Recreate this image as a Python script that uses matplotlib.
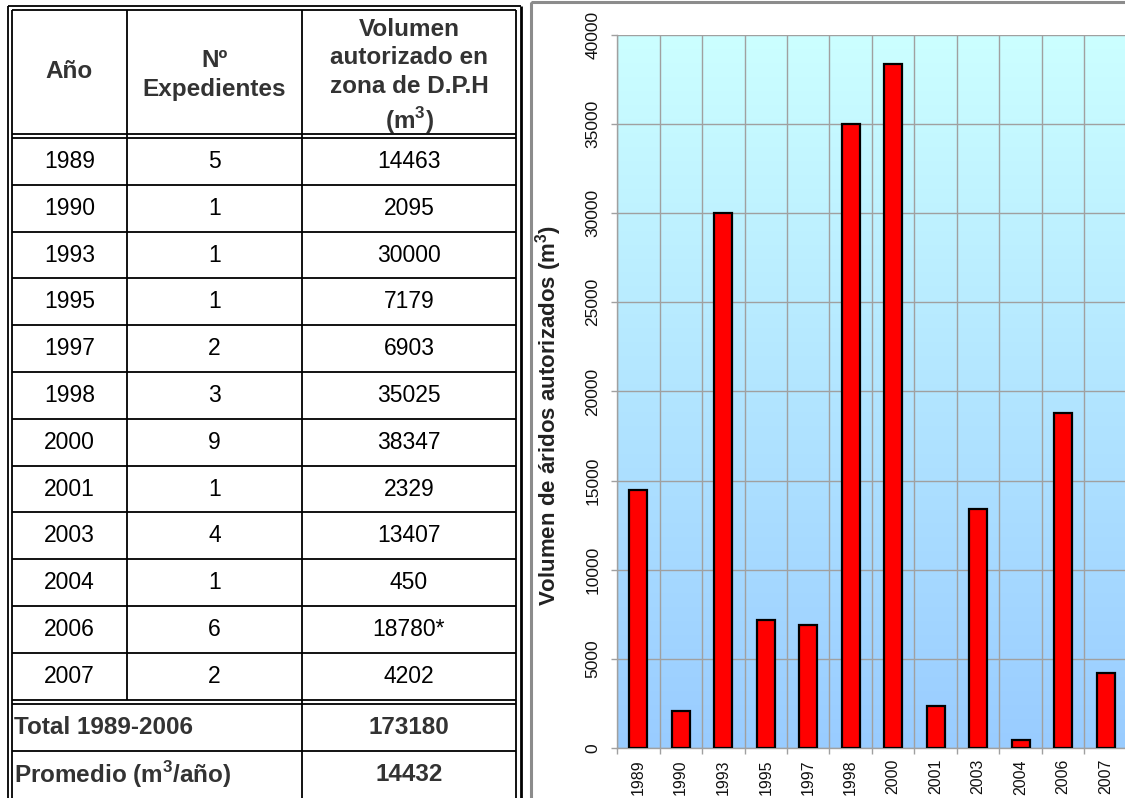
import numpy as np
import matplotlib
matplotlib.use('Agg')
import matplotlib.pyplot as plt
from matplotlib.colors import LinearSegmentedColormap
from matplotlib.patches import Rectangle

plt.rcParams['font.family'] = ['Liberation Sans', 'DejaVu Sans']
plt.rcParams['mathtext.fontset'] = 'custom'
plt.rcParams['mathtext.rm'] = 'Liberation Sans'
plt.rcParams['mathtext.bf'] = 'Liberation Sans:bold'

# data
years = ['1989', '1990', '1993', '1995', '1997', '1998',
         '2000', '2001', '2003', '2004', '2006', '2007']
expedientes = [5, 1, 1, 1, 2, 3, 9, 1, 4, 1, 6, 2]
volumen = [14463, 2095, 30000, 7179, 6903, 35025,
           38347, 2329, 13407, 450, 18780, 4202]
notas = ['', '', '', '', '', '', '', '', '', '', '*', '']
header = ['Año', 'Nº\nExpedientes',
          'Volumen\nautorizado en\nzona de D.P.H\n(m$^{\\mathbf{3}}$)']
resumen_labels = ['Total 1989-2006', 'Promedio (m$^{\\mathbf{3}}$/año)']
resumen_values = [173180, 14432]

W, H = 1125, 798
fig = plt.figure(figsize=(W / 100, H / 100), dpi=100)

# ---- table, drawn in pixel coordinates ----
tab = fig.add_axes([0, 0, 1, 1])
tab.set_xlim(0, W)
tab.set_ylim(H, 0)
tab.axis('off')

def hline(y, x0, x1, lw=1.3):
    tab.plot([x0, x1], [y, y], color='black', lw=lw, solid_capstyle='butt')

def vline(x, y0, y1, lw=1.3):
    tab.plot([x, x], [y0, y1], color='black', lw=lw, solid_capstyle='butt')

xl_out, xl_in, xr_in, xr_out = 7.5, 11.5, 516, 521
yt_out, yt_in = 5.5, 10
col1, col2 = 127, 302
row_top = 138
row_h = 46.8
data_bot = row_top + row_h * len(years)
sum_top = data_bot + 4

vline(xl_out, yt_out, H)
vline(xl_in, yt_in, H)
vline(xr_in, yt_in, H)
vline(xr_out, yt_out, H, lw=2)
hline(yt_out, xl_out, xr_out)
hline(yt_in, xl_in, xr_in)
hline(row_top - 4, xl_in, xr_in)
hline(row_top, xl_in, xr_in)
for k in range(1, len(years)):
    hline(row_top + row_h * k, xl_in, xr_in)
hline(data_bot, xl_in, xr_in)
hline(sum_top, xl_in, xr_in)
hline(sum_top + 47, xl_in, xr_in)
vline(col1, yt_in, data_bot)
vline(col2, yt_in, H)

hdr_col = '#333333'
tab.text((xl_in + col1) / 2, 72, header[0], ha='center', va='center',
         fontsize=17.5, fontweight='bold', color=hdr_col)
tab.text((col1 + col2) / 2, 75, header[1], ha='center', va='center',
         fontsize=17.5, fontweight='bold', color=hdr_col, linespacing=1.3)
tab.text((col2 + xr_in) / 2, 77, header[2], ha='center', va='center',
         fontsize=17.5, fontweight='bold', color=hdr_col, linespacing=1.3)

for i, yr in enumerate(years):
    yc = row_top + row_h * (i + 0.5)
    tab.text((xl_in + col1) / 2, yc, yr, ha='center', va='center', fontsize=16.5)
    tab.text((col1 + col2) / 2, yc, str(expedientes[i]), ha='center',
             va='center', fontsize=16.5)
    tab.text((col2 + xr_in) / 2, yc, f'{volumen[i]}{notas[i]}', ha='center',
             va='center', fontsize=16.5)

for j, lab in enumerate(resumen_labels):
    yc = sum_top + 23.5 + 47 * j
    tab.text(14, yc, lab, ha='left', va='center', fontsize=17.5,
             fontweight='bold', color=hdr_col)
    tab.text((col2 + xr_in) / 2, yc, str(resumen_values[j]), ha='center',
             va='center', fontsize=17.5, fontweight='bold', color=hdr_col)

# chart frame
tab.add_patch(Rectangle((530.5, 1.5), 700, 900, fill=False,
                        edgecolor='#8c8c8c', lw=2.2))

# ---- bar chart ----
px0, px1, py_top, py_bot = 617, 1127, 35, 748
ax = fig.add_axes([px0 / W, (H - py_bot) / H, (px1 - px0) / W,
                   (py_bot - py_top) / H])
x = np.arange(len(years))
ax.set_xlim(-0.5, len(years) - 0.5)
ax.set_ylim(0, 40000)

cmap = LinearSegmentedColormap.from_list('bg', ['#99ccff', '#ccffff'])
grad = np.linspace(0, 1, 256).reshape(-1, 1)
ax.imshow(grad, extent=[-0.5, len(years) - 0.5, 0, 40000], origin='lower',
          aspect='auto', cmap=cmap, zorder=0)

ax.bar(x, volumen, width=0.42, color='#ff0000', edgecolor='black',
       linewidth=1.6, zorder=3)

ax.set_yticks(range(0, 40001, 5000))
ax.set_yticklabels([str(v) for v in range(0, 40001, 5000)], rotation=90,
                   va='center', fontsize=12.5, color='#111111')
ax.set_xticks(x)
ax.set_xticklabels(years, rotation=90, va='top', fontsize=11.5,
                   color='#111111')
ax.set_xticks(np.arange(-0.5, len(years), 1), minor=True)
ax.tick_params(axis='x', which='major', length=0, pad=8)
ax.tick_params(axis='x', which='minor', length=4, width=1, color='#a0a0a0',
               direction='out')
ax.tick_params(axis='y', length=4, width=1, color='#a0a0a0', pad=8)
ax.grid(True, axis='y', color='#a0a0a0', lw=1, zorder=1)
ax.grid(True, axis='x', which='minor', color='#a0a0a0', lw=1, zorder=1)
ax.set_axisbelow(False)
for s in ['top', 'right']:
    ax.spines[s].set_visible(False)
for s in ['left', 'bottom']:
    ax.spines[s].set_color('#a0a0a0')
    ax.spines[s].set_linewidth(1)

fig.text(549 / W, 1 - 415 / H,
         'Volumen de áridos autorizados (m$^{\\mathbf{3}}$)',
         rotation=90, ha='center', va='center', fontsize=16,
         fontweight='bold', color='#222222')

fig.savefig('out.png', dpi=100)
